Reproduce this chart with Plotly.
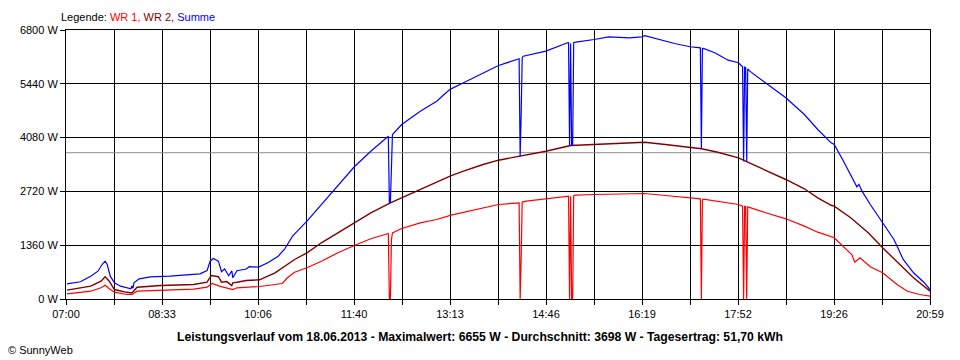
import plotly.graph_objects as go

# time axis: minutes after 07:00 (07:00 .. 20:59)
x_end = 839
x_labels = ["07:00", "08:33", "10:06", "11:40", "13:13", "14:46", "16:19", "17:52", "19:26", "20:59"]
y_ticks = [0, 1360, 2720, 4080, 5440, 6800]
average_w = 3698

wr1_min = [1, 24, 34, 38, 42, 47, 59, 64, 69, 92, 124, 137, 142, 149, 157, 162, 166, 175, 188,
           210, 215, 222, 234, 248, 264, 280, 296, 313, 314, 315, 316, 317, 326, 344, 360, 374,
           386, 405, 420, 440, 441, 442, 443, 447, 466, 488, 489, 490, 491, 492, 493, 495, 513,
           542, 559, 562, 582, 606, 616, 617, 618, 619, 633, 653, 657, 658, 659, 660, 661, 662,
           678, 699, 717, 730, 746, 755, 763, 766, 771, 781, 793, 807, 817, 829, 839]
wr1_w = [131, 197, 283, 349, 258, 172, 114, 114, 197, 215, 248, 298, 392, 324, 280, 240, 283, 298, 316,
         392, 536, 678, 789, 956, 1168, 1352, 1522, 1656, 0, 0, 1490, 1670, 1782, 1926, 2010, 2119,
         2194, 2305, 2389, 2432, 0, 1041, 2450, 2472, 2533, 2599, 0, 2600, 0, 0, 2610, 2624, 2642,
         2649, 2667, 2667, 2616, 2558, 2533, 0, 2500, 2525, 2472, 2389, 2346, 0, 2340, 2340, 0, 2330,
         2194, 2027, 1841, 1689, 1547, 1335, 1125, 930, 1041, 814, 662, 367, 197, 114, 71]

wr2_min = [1, 24, 34, 38, 42, 47, 59, 64, 69, 92, 124, 137, 141, 148, 151, 156, 161, 162, 166, 175,
           188, 203, 222, 234, 248, 264, 280, 296, 315, 326, 344, 360, 374, 386, 405, 420, 440, 466,
           490, 513, 534, 559, 562, 582, 606, 617, 633, 653, 662, 678, 699, 717, 730, 743, 746, 762,
           779, 793, 807, 823, 839]
wr2_w = [223, 324, 450, 561, 450, 240, 169, 152, 298, 341, 367, 425, 594, 564, 425, 440, 340, 409, 425, 468,
         485, 662, 999, 1167, 1421, 1674, 1942, 2179, 2432, 2560, 2780, 2970, 3120, 3231, 3400, 3509, 3610, 3736,
         3880, 3906, 3931, 3948, 3964, 3906, 3822, 3797, 3711, 3569, 3458, 3274, 3021, 2786, 2558, 2370, 2346, 2053,
         1674, 1294, 930, 536, 197]

summe_min = [1, 14, 24, 31, 35, 38, 40, 43, 47, 53, 63, 64, 65, 66, 71, 82, 101, 117, 130, 137, 140, 143,
             148, 151, 154, 158, 161, 162, 166, 175, 178, 187, 196, 206, 212, 215, 220, 234, 248, 260, 280,
             296, 313, 314, 315, 317, 326, 344, 360, 366, 373, 386, 399, 420, 440, 441, 442, 443, 444, 466,
             487, 488, 489, 490, 491, 492, 493, 495, 513, 527, 547, 559, 562, 575, 591, 606, 616, 617, 618,
             619, 630, 643, 653, 657, 658, 659, 660, 661, 662, 664, 678, 699, 717, 730, 743, 746, 755, 763,
             768, 770, 773, 781, 793, 804, 813, 823, 833, 839]
summe_w = [384, 435, 577, 703, 872, 956, 872, 577, 409, 324, 258, 330, 270, 409, 511, 561, 577, 602, 637, 720, 956, 1024,
           956, 690, 758, 589, 715, 536, 715, 758, 817, 805, 915, 1082, 1251, 1378, 1588, 1967, 2389, 2768, 3342,
           3736, 4116, 2447, 2447, 4159, 4411, 4748, 5000, 5145, 5300, 5465, 5633, 5903, 6072, 3610, 4664, 6100, 6138, 6265,
           6477, 6480, 3880, 6460, 3880, 3880, 6480, 6492, 6560, 6628, 6603, 6628, 6655, 6560, 6459, 6376, 6350, 3797, 6330,
           6333, 6224, 6037, 5971, 5870, 3484, 5860, 5850, 3470, 5820, 5759, 5481, 5086, 4664, 4285, 3948, 3906, 3484, 3105,
           2836, 2900, 2726, 2389, 1942, 1504, 999, 662, 425, 240]

RED = "#FF0000"
DARKRED = "#800000"
BLUE = "#0000FF"
FONT = "Liberation Sans"

fig = go.Figure()
fig.add_trace(go.Scatter(x=[0, x_end], y=[average_w, average_w], mode="lines",
                         line=dict(color="#8C8C8C", width=1), hoverinfo="skip"))
fig.add_trace(go.Scatter(x=wr1_min, y=wr1_w, mode="lines", name="WR 1",
                         line=dict(color=RED, width=1.2)))
fig.add_trace(go.Scatter(x=wr2_min, y=wr2_w, mode="lines", name="WR 2",
                         line=dict(color=DARKRED, width=1.4)))
fig.add_trace(go.Scatter(x=summe_min, y=summe_w, mode="lines", name="Summe",
                         line=dict(color=BLUE, width=1.2)))

n_grid = 2 * (len(x_labels) - 1)
x_tickvals = [i * x_end / n_grid for i in range(n_grid + 1)]
x_ticktext = [x_labels[i // 2] if i % 2 == 0 else "" for i in range(n_grid + 1)]

fig.update_xaxes(range=[0, x_end], tickvals=x_tickvals, ticktext=x_ticktext,
                 showgrid=True, gridcolor="black", gridwidth=1,
                 showline=True, linecolor="black", linewidth=1, mirror=True,
                 ticks="outside", ticklen=5, tickcolor="black", zeroline=False,
                 tickfont=dict(family=FONT, size=11, color="black"), fixedrange=True)
fig.update_yaxes(range=[0, 6800], tickvals=y_ticks, ticktext=[f"{v} W" for v in y_ticks],
                 showgrid=True, gridcolor="black", gridwidth=1,
                 showline=True, linecolor="black", linewidth=1, mirror=True,
                 ticks="outside", ticklen=5, tickcolor="black", zeroline=False,
                 tickfont=dict(family=FONT, size=11, color="black"), fixedrange=True)

# the page body adds an 8px offset; figure is sized so the plot area lands at x 60..930, y 30..299
fig.update_layout(
    width=952, height=352,
    margin=dict(l=52, r=30, t=22, b=61, pad=0),
    paper_bgcolor="white", plot_bgcolor="white",
    showlegend=False, hovermode=False,
    font=dict(family=FONT, size=11, color="black"),
    annotations=[
        dict(xref="paper", yref="paper", x=-0.008, y=1.05, xanchor="left", yanchor="middle",
             showarrow=False, font=dict(family=FONT, size=11, color="black"),
             text=f"Legende: <span style='color:{RED}'>WR 1,</span> "
                  f"<span style='color:{DARKRED}'>WR 2,</span> "
                  f"<span style='color:{BLUE}'>Summe</span>"),
        dict(xref="paper", yref="paper", x=0.479, y=-0.141, xanchor="center", yanchor="middle",
             showarrow=False, font=dict(family=FONT, size=12.2, color="black"),
             text="<b>Leistungsverlauf vom 18.06.2013 - Maximalwert: 6655 W - Durchschnitt: 3698 W - "
                  "Tagesertrag: 51,70 kWh</b>"),
        dict(xref="paper", yref="paper", x=-0.069, y=-0.19, xanchor="left", yanchor="middle",
             showarrow=False, font=dict(family=FONT, size=11, color="black"),
             text="© SunnyWeb"),
    ],
)

fig.write_html("out.html", config={"displayModeBar": False})
